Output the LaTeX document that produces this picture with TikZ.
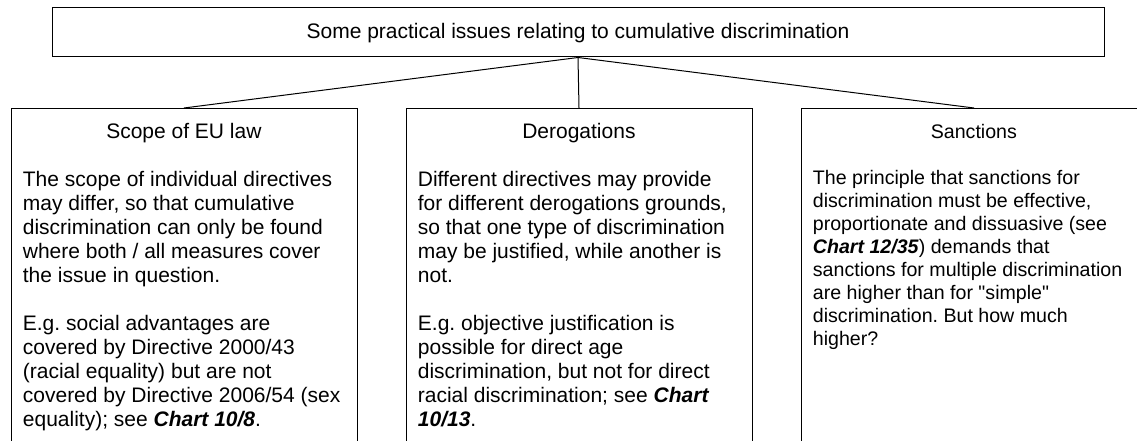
\documentclass[tikz,border=0pt]{standalone}
\usepackage{fontspec}
\setmainfont{Liberation Sans}[Ligatures=TeXOff]
\frenchspacing
\begin{document}
\begin{tikzpicture}[x=1pt,y=-1pt,
  line/.style={draw=black, line width=1pt},
  topbox/.style={line, minimum width=1052pt, minimum height=49pt, inner sep=0pt,
    font=\fontsize{21}{24}\selectfont, text height=15pt, text depth=3pt},
  childbox/.style={line, anchor=north, minimum width=346pt, minimum height=360pt, inner sep=0pt},
  bodytext/.style={anchor=north west, inner sep=0pt, align=left, font=\fontsize{21}{24}\selectfont},
  smalltext/.style={bodytext, font=\fontsize{19.6}{23}\selectfont},
  conn/.style={line}]
\clip (0,0) rectangle (1137,441);
\fill[white] (0,0) rectangle (1137,441);
\node[topbox] (top) at (578,32.5) {Some practical issues relating to cumulative discrimination};
\node[childbox] (scope) at (184,108) {};
\node[childbox] (derog) at (579,108) {};
\node[childbox] (sanc) at (974,108) {};
\newcommand{\hdr}[1]{\rule{0pt}{17pt}\makebox[322pt][c]{#1}}
\newcommand{\chart}[1]{\textbf{\textit{#1}}}
\node[bodytext] (scopetext) at (22.7,121) {\hdr{Scope of EU law}\\[24pt]
The scope of individual directives\\
may differ, so that cumulative\\
discrimination can only be found\\
where both / all measures cover\\
the issue in question.\\[24pt]
E.g. social advantages are\\
covered by Directive 2000/43\\
(racial equality) but are not\\
covered by Directive 2006/54 (sex\\
equality); see \chart{Chart 10/8}.};
\node[bodytext] (derogtext) at (417.7,121) {\hdr{Derogations}\\[24pt]
Different directives may provide\\
for different derogations grounds,\\
so that one type of discrimination\\
may be justified, while another is\\
not.\\[24pt]
E.g. objective justification is\\
possible for direct age\\
discrimination, but not for direct\\
racial discrimination; see \chart{Chart}\\
\chart{10/13}.};
\node[smalltext] (sanctext) at (812.7,121) {\hdr{Sanctions}\\[23pt]
The principle that sanctions for\\
discrimination must be effective,\\
proportionate and dissuasive (see\\
\chart{Chart 12/35}) demands that\\
sanctions for multiple discrimination\\
are higher than for "simple"\\
discrimination. But how much\\
higher?};
\draw[conn] (top.south) -- (scope.north);
\draw[conn] (top.south) -- (derog.north);
\draw[conn] (top.south) -- (sanc.north);
\end{tikzpicture}
\end{document}
